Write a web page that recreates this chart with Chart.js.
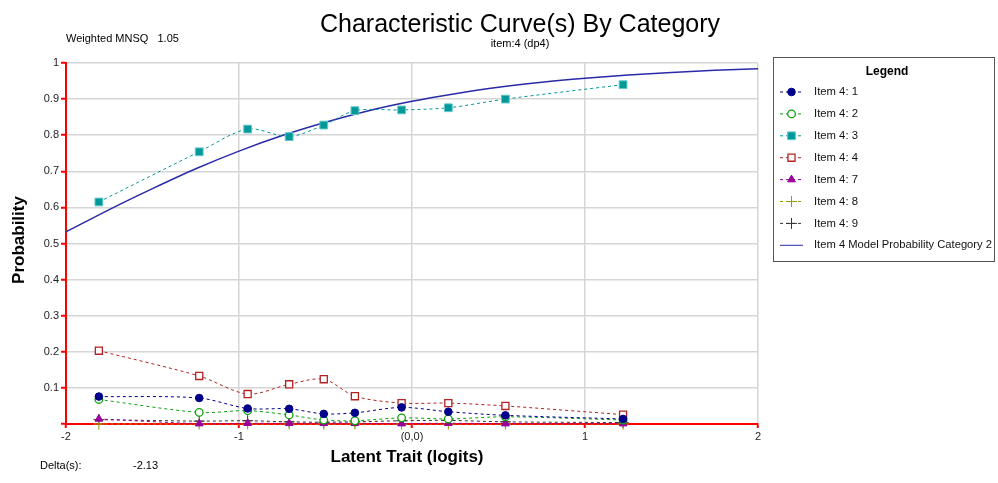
<!DOCTYPE html>
<html>
<head>
<meta charset="utf-8">
<script src="https://cdn.jsdelivr.net/npm/chart.js@4.4.1/dist/chart.umd.min.js"></script>
<style>
  html, body { margin: 0; padding: 0; background: #fff; }
  #wrap { width: 998px; height: 483px; position: relative; }
</style>
</head>
<body>
<div id="wrap"><canvas id="icc" width="998" height="483"></canvas></div>
<script>
// observed points (logit group means)
const abilityPoints = [-1.81, -1.23, -0.95, -0.71, -0.51, -0.33, -0.06, 0.21, 0.54, 1.22];

const cat1 = [0.076, 0.072, 0.043, 0.042, 0.028, 0.031, 0.046, 0.034, 0.024, 0.014];
const cat2 = [0.068, 0.032, 0.037, 0.025, 0.011, 0.009, 0.017, 0.014, 0.020, 0.011];
const cat3 = [0.615, 0.754, 0.817, 0.796, 0.828, 0.868, 0.870, 0.876, 0.900, 0.940];
const cat4 = [0.203, 0.133, 0.083, 0.110, 0.124, 0.077, 0.058, 0.058, 0.050, 0.026];
const cat7 = [0.014, 0.001, 0.002, 0.002, 0.002, 0.002, 0.001, 0.002, 0.001, 0.001];
const cat8 = [0, 0, 0, 0, 0, 0, 0, 0, 0, 0];
const cat9 = [0.012, 0.008, 0.009, 0.006, 0.005, 0.006, 0.009, 0.010, 0.006, 0.004];

// model curve
const modelX = [-2, -1.75, -1.5, -1.25, -1, -0.75, -0.5, -0.25, 0, 0.25, 0.5, 0.75, 1, 1.25, 1.5, 1.75, 2];
const modelY = [0.532, 0.594, 0.652, 0.707, 0.756, 0.799, 0.836, 0.868, 0.894, 0.915, 0.933, 0.947, 0.958, 0.967, 0.974, 0.980, 0.984];

const seriesNames = ['Item 4: 1', 'Item 4: 2', 'Item 4: 3', 'Item 4: 4', 'Item 4: 7', 'Item 4: 8', 'Item 4: 9'];
const xTicks = [-2, -1, 0, 1, 2];

const FONT = '"Liberation Sans", Arial, sans-serif';

function pts(xs, ys) {
    return xs.map((x, i) => ({ x: x, y: ys[i] }));
}

function observed(label, values, color, style, opts) {
    return Object.assign({
        label: label,
        data: pts(abilityPoints, values),
        borderColor: color,
        backgroundColor: color,
        pointBorderColor: color,
        borderWidth: 1,
        borderDash: [3, 3],
        pointStyle: style,
        pointRadius: 4,
        pointBorderWidth: 1,
        pointHoverRadius: 4,
        tension: 0.3,
        clip: false,
        fill: false
    }, opts || {});
}

const datasets = [
    observed(seriesNames[0], cat1, '#00008b', 'circle', { pointRadius: 3.8 }),
    observed(seriesNames[1], cat2, '#0aa00a', 'circle', { pointBackgroundColor: '#fff', pointRadius: 3.8, pointBorderWidth: 1.3 }),
    observed(seriesNames[2], cat3, '#009999', 'rect', { pointRadius: 5.5, pointBorderColor: '#66c8c8' }),
    observed(seriesNames[3], cat4, '#b22222', 'rect', { pointBackgroundColor: '#fff', pointRadius: 5, pointBorderWidth: 1.3 }),
    observed(seriesNames[4], cat7, '#990099', 'triangle', { pointRadius: 4.5 }),
    observed(seriesNames[5], cat8, '#999900', 'cross', { pointRadius: 5.5 }),
    observed(seriesNames[6], cat9, '#333333', 'cross', { pointRadius: 5.5 }),
    {
        label: 'Item 4 Model Probability Category 2',
        data: pts(modelX, modelY),
        borderColor: '#2a2aa8',
        backgroundColor: '#2a2aa8',
        borderWidth: 1.5,
        pointRadius: 0,
        cubicInterpolationMode: 'monotone',
        clip: false,
        fill: false
    }
];

// text around the chart + the boxed legend on the right
const decorations = {
    id: 'decorations',
    afterDraw(chart) {
        const ctx = chart.ctx;
        ctx.save();
        ctx.fillStyle = '#000';
        ctx.textBaseline = 'alphabetic';

        ctx.textAlign = 'center';
        ctx.font = '25px ' + FONT;
        ctx.fillText('Characteristic Curve(s) By Category', 520, 32);
        ctx.font = '11px ' + FONT;
        ctx.fillText('item:4 (dp4)', 520, 47);

        ctx.textAlign = 'left';
        ctx.fillText('Weighted MNSQ   1.05', 66, 42);
        ctx.fillText('Delta(s):', 40, 469);
        ctx.fillText('-2.13', 133, 469);

        ctx.textAlign = 'center';
        ctx.font = 'bold 17px ' + FONT;
        ctx.fillText('Latent Trait (logits)', 407, 462);
        ctx.translate(24, 240);
        ctx.rotate(-Math.PI / 2);
        ctx.fillText('Probability', 0, 0);
        ctx.restore();

        // legend box
        ctx.save();
        ctx.strokeStyle = '#555';
        ctx.lineWidth = 1;
        ctx.strokeRect(773.5, 57.5, 221, 204);
        ctx.fillStyle = '#000';
        ctx.font = 'bold 12px ' + FONT;
        ctx.textAlign = 'center';
        ctx.textBaseline = 'middle';
        ctx.fillText('Legend', 887, 72);
        ctx.textAlign = 'left';
        ctx.font = '11.3px ' + FONT;
        chart.data.datasets.forEach((ds, i) => {
            const y = 92 + i * 21.9;
            ctx.save();
            ctx.strokeStyle = ds.borderColor;
            ctx.lineWidth = 1;
            ctx.setLineDash(ds.borderDash || []);
            ctx.beginPath();
            ctx.moveTo(780, y);
            ctx.lineTo(803, y);
            ctx.stroke();
            ctx.setLineDash([]);
            if (ds.pointRadius > 0) {
                ctx.fillStyle = ds.pointBackgroundColor || ds.backgroundColor;
                ctx.strokeStyle = ds.pointBorderColor || ds.borderColor;
                ctx.lineWidth = ds.pointBorderWidth || 1;
                Chart.helpers.drawPoint(ctx, {
                    pointStyle: ds.pointStyle,
                    radius: ds.pointRadius,
                    borderWidth: ds.pointBorderWidth || 1,
                    rotation: 0
                }, 791.5, y);
            }
            ctx.restore();
            ctx.fillStyle = '#111';
            ctx.fillText(ds.label, 814, y, 178);
        });
        ctx.restore();
    }
};

const chart = new Chart(document.getElementById('icc'), {
    type: 'line',
    data: { datasets: datasets },
    plugins: [decorations],
    options: {
        responsive: false,
        devicePixelRatio: 1,
        animation: false,
        events: [],
        layout: { padding: { top: 63, right: 240, left: 0, bottom: 0 } },
        plugins: {
            legend: { display: false },
            title: { display: false },
            tooltip: { enabled: false }
        },
        scales: {
            x: {
                type: 'linear',
                min: -2,
                max: 2,
                afterBuildTicks: (scale) => { scale.ticks = xTicks.map(v => ({ value: v })); },
                afterFit: (scale) => { scale.height = 59; },
                border: { color: '#ff0000', width: 2 },
                grid: { color: '#d6d6d6', lineWidth: 1.5, tickColor: '#ff0000', tickLength: 4, tickWidth: 2 },
                ticks: {
                    padding: 2,
                    color: '#222',
                    font: { size: 11, family: FONT },
                    callback: (v) => v === 0 ? '(0,0)' : String(v)
                }
            },
            y: {
                min: 0,
                max: 1,
                afterFit: (scale) => { scale.width = 66; },
                border: { color: '#ff0000', width: 2 },
                grid: { color: '#d6d6d6', lineWidth: 1.5, tickColor: '#ff0000', tickLength: 5, tickWidth: 2 },
                ticks: {
                    stepSize: 0.1,
                    padding: 2,
                    color: '#222',
                    font: { size: 11, family: FONT },
                    callback: (v) => v === 0 ? '' : String(+v.toFixed(1))
                }
            }
        }
    }
});
</script>
</body>
</html>
